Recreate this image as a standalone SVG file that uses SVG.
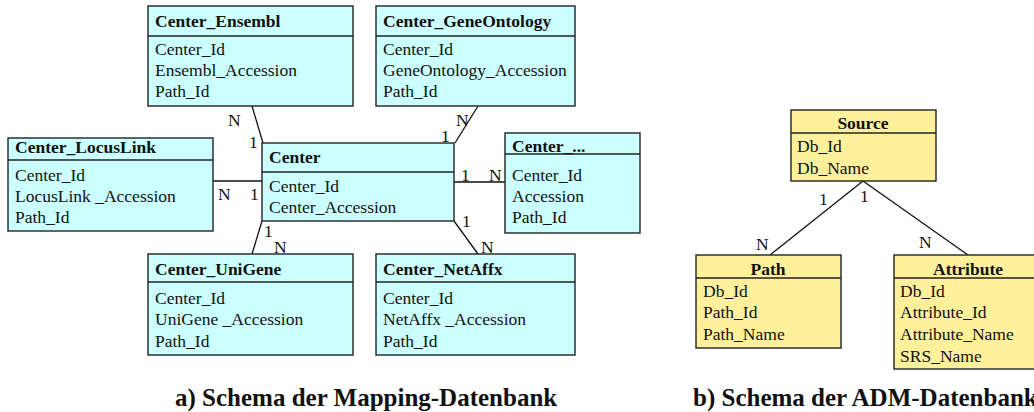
<svg xmlns="http://www.w3.org/2000/svg" width="1034" height="412" viewBox="0 0 1034 412">
<style>
text{font-family:"Liberation Serif","Times New Roman",serif;font-size:17.5px;fill:#111}
.h{font-weight:bold}
.c{text-anchor:middle}
.cap{font-weight:bold;font-size:25px}
.bc{fill:#ccffff;stroke:#222;stroke-width:1.4}
.by{fill:#fff09c;stroke:#222;stroke-width:1.4}
.d{stroke:#222;stroke-width:1.4}
.ln{stroke:#111;stroke-width:1.3;fill:none}
</style>
<rect width="1034" height="412" fill="#fff"/>
<g id="connectors">
<line class="ln" x1="252" y1="106" x2="263" y2="143"/>
<line class="ln" x1="478" y1="106" x2="455" y2="143"/>
<line class="ln" x1="213" y1="181" x2="262" y2="181"/>
<line class="ln" x1="454" y1="182" x2="505" y2="182"/>
<line class="ln" x1="262" y1="221" x2="252" y2="254"/>
<line class="ln" x1="454" y1="221" x2="478" y2="254"/>
<line class="ln" x1="863" y1="181" x2="770" y2="255"/>
<line class="ln" x1="863" y1="181" x2="968" y2="255"/>
<text x="228" y="126">N</text><text x="249" y="148">1</text>
<text x="456" y="126">N</text><text x="441" y="142">1</text>
<text x="218" y="200">N</text><text x="250" y="200">1</text>
<text x="461" y="181">1</text><text x="489" y="181">N</text>
<text x="264" y="237">1</text><text x="274" y="253">N</text>
<text x="462" y="227">1</text><text x="481" y="253">N</text>
<text x="819" y="205">1</text><text x="860" y="202">1</text>
<text x="756" y="250">N</text><text x="919" y="248">N</text>
</g>
<g id="Center_Ensembl">
<rect class="bc" x="148" y="6" width="205" height="100"/>
<line class="d" x1="148" y1="36" x2="353" y2="36"/>
<text class="h" x="155" y="27">Center_Ensembl</text>
<text x="155" y="55">Center_Id</text><text x="155" y="76">Ensembl_Accession</text><text x="155" y="97">Path_Id</text>
</g>
<g id="Center_GeneOntology">
<rect class="bc" x="376" y="6" width="199" height="100"/>
<line class="d" x1="376" y1="36" x2="575" y2="36"/>
<text class="h" x="383" y="27">Center_GeneOntology</text>
<text x="383" y="55">Center_Id</text><text x="383" y="76">GeneOntology_Accession</text><text x="383" y="97">Path_Id</text>
</g>
<g id="Center_LocusLink">
<rect class="bc" x="8" y="138" width="205" height="93"/>
<line class="d" x1="8" y1="160" x2="213" y2="160"/>
<text class="h" x="15" y="153">Center_LocusLink</text>
<text x="15" y="181">Center_Id</text><text x="15" y="202">LocusLink _Accession</text><text x="15" y="223">Path_Id</text>
</g>
<g id="Center">
<rect class="bc" x="262" y="143" width="192" height="78" stroke-width="1.8"/>
<line class="d" x1="262" y1="172" x2="454" y2="172"/>
<text class="h" x="269" y="163">Center</text>
<text x="269" y="192">Center_Id</text><text x="269" y="213">Center_Accession</text>
</g>
<g id="Center_etc">
<rect class="bc" x="505" y="133" width="135" height="100"/>
<line class="d" x1="505" y1="154" x2="640" y2="154"/>
<text class="h" x="512" y="152">Center_...</text>
<text x="512" y="181">Center_Id</text><text x="512" y="202">Accession</text><text x="512" y="223">Path_Id</text>
</g>
<g id="Center_UniGene">
<rect class="bc" x="148" y="254" width="205" height="101"/>
<line class="d" x1="148" y1="282" x2="353" y2="282"/>
<text class="h" x="155" y="275">Center_UniGene</text>
<text x="155" y="304">Center_Id</text><text x="155" y="325">UniGene _Accession</text><text x="155" y="347">Path_Id</text>
</g>
<g id="Center_NetAffx">
<rect class="bc" x="376" y="254" width="199" height="101"/>
<line class="d" x1="376" y1="282" x2="575" y2="282"/>
<text class="h" x="383" y="275">Center_NetAffx</text>
<text x="383" y="304">Center_Id</text><text x="383" y="325">NetAffx _Accession</text><text x="383" y="347">Path_Id</text>
</g>
<g id="Source">
<rect class="by" x="791" y="110" width="145" height="71"/>
<line class="d" x1="791" y1="133" x2="936" y2="133"/>
<text class="h c" x="863" y="129">Source</text>
<text x="797" y="152">Db_Id</text><text x="797" y="174">Db_Name</text>
</g>
<g id="Path">
<rect class="by" x="696" y="255" width="145" height="93"/>
<line class="d" x1="696" y1="278" x2="841" y2="278"/>
<text class="h c" x="768" y="275">Path</text>
<text x="703" y="297">Db_Id</text><text x="703" y="318">Path_Id</text><text x="703" y="340">Path_Name</text>
</g>
<g id="Attribute">
<rect class="by" x="894" y="255" width="148" height="114"/>
<line class="d" x1="894" y1="278" x2="1042" y2="278"/>
<text class="h c" x="968" y="275">Attribute</text>
<text x="900" y="297">Db_Id</text><text x="900" y="318">Attribute_Id</text><text x="900" y="340">Attribute_Name</text><text x="900" y="362">SRS_Name</text>
</g>
<g id="captions">
<text class="cap" x="175" y="406">a) Schema der Mapping-Datenbank</text>
<text class="cap" x="693" y="406">b) Schema der ADM-Datenbank</text>
</g>
</svg>
